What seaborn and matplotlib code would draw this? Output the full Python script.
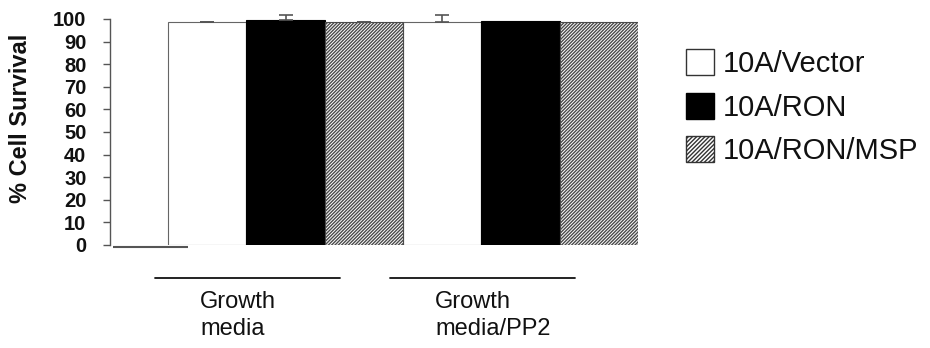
import matplotlib
matplotlib.use("Agg")
import matplotlib.pyplot as plt
from matplotlib.patches import Patch
import numpy as np
import pandas as pd
import seaborn as sns

# ---- data ----
groups = ["Growth\nmedia", "Growth\nmedia/PP2"]
series = ["10A/Vector", "10A/RON", "10A/RON/MSP"]
vector_vals = [98.5, 98.5]
ron_vals = [99.4, 99.2]
msp_vals = [98.5, 98.7]
vector_err = [0.3, 3.3]
ron_err = [2.5, 0.0]
msp_err = [0.3, 0.0]
yticks = [0, 10, 20, 30, 40, 50, 60, 70, 80, 90, 100]
ylabel = "% Cell Survival"

values = [vector_vals, ron_vals, msp_vals]
errors = [vector_err, ron_err, msp_err]

df = pd.DataFrame({
    "group": [g for s in series for g in groups],
    "series": [s for s in series for g in groups],
    "value": [v for vals in values for v in vals],
})

sns.set_theme(style="white")
plt.rcParams["font.family"] = ["Liberation Sans", "DejaVu Sans"]
plt.rcParams["hatch.linewidth"] = 1.0

fig = plt.figure(figsize=(9.3, 3.48), dpi=100)
ax = fig.add_axes([110 / 930, 1 - 245 / 348, (638 - 110) / 930, (245 - 19) / 348])

face = ["white", "black", "white"]
sns.barplot(data=df, x="group", y="value", hue="series", order=groups,
            hue_order=series, palette=face, width=1.0, gap=0,
            errorbar=None, legend=False, ax=ax, edgecolor="#666666",
            linewidth=0.8)

bar_containers = list(ax.containers)
for i, cont in enumerate(bar_containers):
    for j, bar in enumerate(cont):
        if i == 2:
            bar.set_hatch("//////////")
            bar.set_edgecolor("#4a4a4a")
        if i == 1:
            bar.set_edgecolor("black")
        e = errors[i][j]
        if e > 0:
            xc = bar.get_x() + bar.get_width() / 2
            ax.errorbar([xc], [values[i][j]], yerr=[[0], [e]], fmt="none",
                        ecolor="#555555", elinewidth=1.2, capsize=5,
                        capthick=1.2, clip_on=False, zorder=5)

ax.set_xlim(-0.747, 1.5)
ax.set_ylim(0, 100)
ax.set_yticks(yticks)
ax.set_yticklabels([str(t) for t in yticks], fontsize=14.5, fontweight="bold",
                   color="#111111")
ax.set_xticks([])
ax.set_xlabel("")
ax.set_ylabel(ylabel, fontsize=17, fontweight="bold", color="#111111")
ax.yaxis.set_label_coords(-0.148, 0.56)
ax.tick_params(axis="y", direction="out", length=5, width=1, color="#555555",
               pad=12, left=True)
for side in ["top", "right", "bottom"]:
    ax.spines[side].set_visible(False)
ax.spines["left"].set_color("#555555")
ax.spines["left"].set_linewidth(1)

# short baseline segment at lower left
ax.plot([-0.735, -0.415], [-0.9, -0.9], color="#555555", lw=1.5,
        clip_on=False, solid_capstyle="butt")

# group brackets and labels below axes
trans = ax.get_xaxis_transform()
for i, g in enumerate(groups):
    ax.plot([i - 0.555, i + 0.23], [-0.146, -0.146], color="#111111", lw=1.3,
            transform=trans, clip_on=False)
    ax.text(i - 0.364, -0.205, g, transform=trans, ha="left", va="top",
            multialignment="left", fontsize=17, linespacing=1.25,
            color="#111111")

handles = [Patch(facecolor="white", edgecolor="#333333", lw=1.0),
           Patch(facecolor="black", edgecolor="black", lw=1.0),
           Patch(facecolor="white", edgecolor="#333333", lw=1.0, hatch="////////")]
fig.legend(handles, series, loc="upper left", bbox_to_anchor=(686 / 930, 1 - 49 / 348),
           frameon=False, fontsize=21, handlelength=0.95, handleheight=1.0,
           handletextpad=0.3, labelspacing=0.5, borderpad=0, borderaxespad=0,
           labelcolor="#111111")

fig.savefig("out.png", dpi=100, facecolor="white")
